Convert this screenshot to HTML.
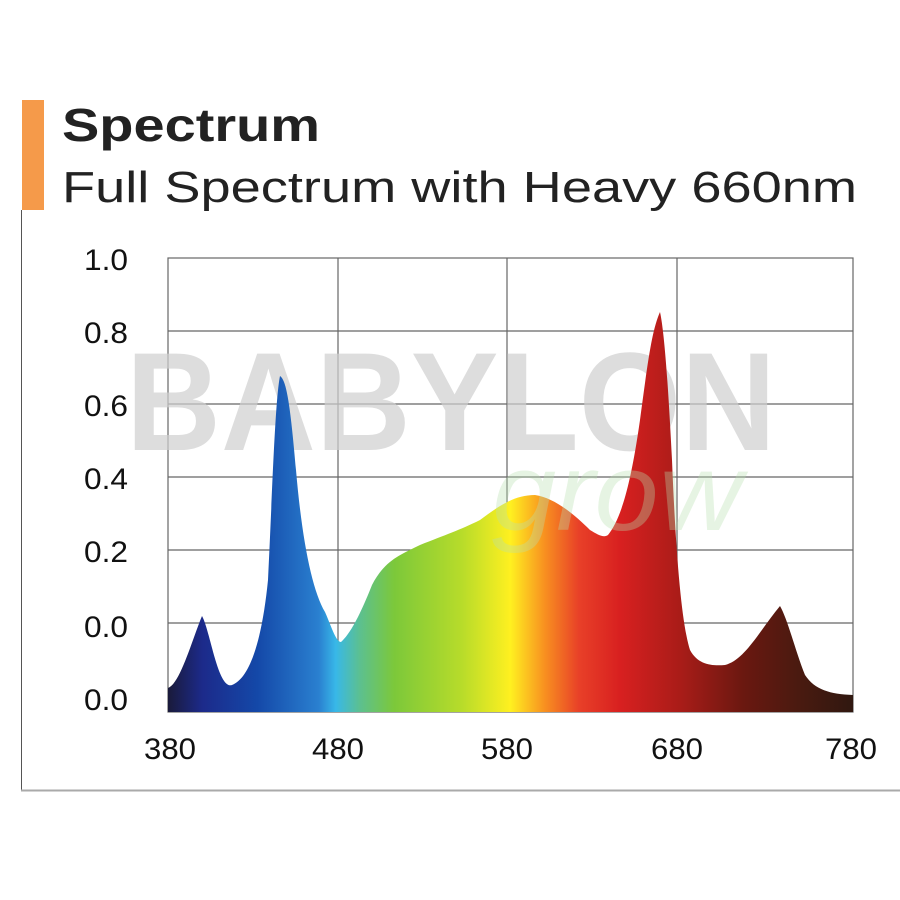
<!DOCTYPE html>
<html><head><meta charset="utf-8"><style>html,body{margin:0;padding:0;background:#fff}svg{display:block}</style></head><body>
<svg width="900" height="900" viewBox="0 0 900 900" xmlns="http://www.w3.org/2000/svg" font-family="Liberation Sans, sans-serif">
<defs>
<linearGradient id="sp" gradientUnits="userSpaceOnUse" x1="168" y1="0" x2="853" y2="0">
<stop offset="0" stop-color="#1a1a3a"/>
<stop offset="0.05" stop-color="#1c2a8a"/>
<stop offset="0.13" stop-color="#1448a8"/>
<stop offset="0.22" stop-color="#2a80d0"/>
<stop offset="0.245" stop-color="#38b8e8"/>
<stop offset="0.28" stop-color="#5cc090"/>
<stop offset="0.33" stop-color="#7cc83a"/>
<stop offset="0.43" stop-color="#b8dc2a"/>
<stop offset="0.5" stop-color="#fff020"/>
<stop offset="0.55" stop-color="#f89020"/>
<stop offset="0.6" stop-color="#e84028"/>
<stop offset="0.66" stop-color="#d82020"/>
<stop offset="0.75" stop-color="#a81c18"/>
<stop offset="0.84" stop-color="#6a1810"/>
<stop offset="0.92" stop-color="#4a1a10"/>
<stop offset="1" stop-color="#301810"/>
</linearGradient>
</defs>
<rect x="22" y="100" width="22" height="110" fill="#f59a4a"/>
<line x1="21.5" y1="210" x2="21.5" y2="791" stroke="#555" stroke-width="1"/>
<line x1="21" y1="790.5" x2="900" y2="790.5" stroke="#aaa" stroke-width="2"/>
<text x="62" y="141" font-size="46" font-weight="bold" fill="#222" textLength="258" lengthAdjust="spacingAndGlyphs">Spectrum</text>
<text x="62" y="202" font-size="44" fill="#222" textLength="795" lengthAdjust="spacingAndGlyphs">Full Spectrum with Heavy 660nm</text>
<g stroke="#666" stroke-width="1.2" fill="none">
<rect x="168" y="258" width="685" height="454"/>
<line x1="168" y1="331" x2="853" y2="331"/>
<line x1="168" y1="404" x2="853" y2="404"/>
<line x1="168" y1="477" x2="853" y2="477"/>
<line x1="168" y1="550" x2="853" y2="550"/>
<line x1="168" y1="623" x2="853" y2="623"/>
<line x1="338" y1="258" x2="338" y2="712"/>
<line x1="507" y1="258" x2="507" y2="712"/>
<line x1="677" y1="258" x2="677" y2="712"/>
</g>
<text x="126" y="450" font-size="140" font-weight="bold" fill="#cfcfcf" fill-opacity="0.7" textLength="650" lengthAdjust="spacingAndGlyphs">BABYLON</text>
<path fill="url(#sp)" d="M168,712 L168,688 C180,684 192,640 202,616 C210,630 218,690 232,685 C250,678 262,640 268,580 C272,500 275,400 280,376 C286,380 290,400 296,470 C302,540 312,590 325,612 C332,628 336,642 341,642 C352,632 362,610 372,585 C385,560 400,555 420,545 C445,535 460,530 480,520 C500,505 515,495 535,495 C555,498 575,515 590,530 C598,535 604,538 608,535 C620,520 630,490 640,420 C648,360 652,330 660,312 C664,330 668,380 672,460 C676,560 682,625 690,650 C698,665 712,666 725,665 C745,660 760,630 780,606 C788,620 795,650 805,675 C815,690 830,694 853,695 L853,712 Z" />
<text x="492" y="530" font-size="110" font-style="italic" fill="#b8e0b0" fill-opacity="0.35" textLength="250" lengthAdjust="spacingAndGlyphs">grow</text>
<g font-size="30" fill="#111" text-anchor="end">
<text x="128" y="270" textLength="44" lengthAdjust="spacingAndGlyphs">1.0</text>
<text x="128" y="343" textLength="44" lengthAdjust="spacingAndGlyphs">0.8</text>
<text x="128" y="416" textLength="44" lengthAdjust="spacingAndGlyphs">0.6</text>
<text x="128" y="489" textLength="44" lengthAdjust="spacingAndGlyphs">0.4</text>
<text x="128" y="562" textLength="44" lengthAdjust="spacingAndGlyphs">0.2</text>
<text x="128" y="637" textLength="44" lengthAdjust="spacingAndGlyphs">0.0</text>
<text x="128" y="710" textLength="44" lengthAdjust="spacingAndGlyphs">0.0</text>
</g>
<g font-size="30" fill="#111" text-anchor="middle">
<text x="170" y="759" textLength="52" lengthAdjust="spacingAndGlyphs">380</text>
<text x="338" y="759" textLength="52" lengthAdjust="spacingAndGlyphs">480</text>
<text x="507" y="759" textLength="52" lengthAdjust="spacingAndGlyphs">580</text>
<text x="677" y="759" textLength="52" lengthAdjust="spacingAndGlyphs">680</text>
<text x="851" y="759" textLength="52" lengthAdjust="spacingAndGlyphs">780</text>
</g>
</svg>
</body></html>
